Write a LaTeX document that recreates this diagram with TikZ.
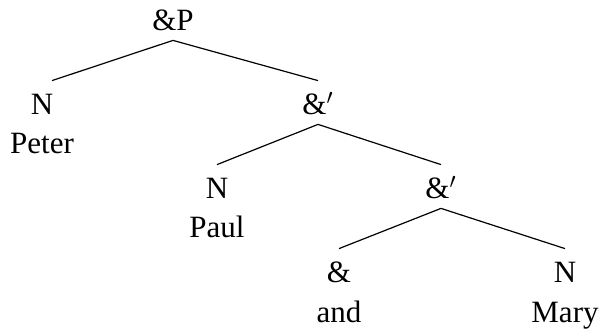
\documentclass[tikz,border=0pt]{standalone}
\usepackage{fontspec}
\setmainfont{Liberation Serif}
\usetikzlibrary{arrows, arrows.meta}

\tikzset{
  cat/.style={anchor=base, inner sep=0pt, text height=17pt, text depth=4.5pt, font=\fontsize{15.5}{18}\selectfont},
  word/.style={anchor=base, inner sep=0pt, font=\fontsize{15.5}{18}\selectfont},
  branch/.style={line width=0.6pt}
}

\begin{document}
\begin{tikzpicture}[x=0.5pt, y=-0.5pt]
\useasboundingbox (0,0) rectangle (600,331);
\node[cat] (andp) at (173,31) {\&P};
\node[cat] (n1) at (42,115) {N};
\node[word] (peter) at (42,154) {Peter};
\node[cat] (bar1) at (318,115) {\&$'$};
\node[cat] (n2) at (217,199) {N};
\node[word] (paul) at (217,238) {Paul};
\node[cat] (bar2) at (441,199) {\&$'$};
\node[cat] (conj) at (339,283) {\&};
\node[word] (and) at (339,322) {and};
\node[cat] (n3) at (565,283) {N};
\node[word] (mary) at (565,322) {Mary};
\draw[branch] ([xshift=5pt]n1.north) -- (andp.south) -- (bar1.north);
\draw[branch] (n2.north) -- (bar1.south) -- (bar2.north);
\draw[branch] (conj.north) -- (bar2.south) -- (n3.north);
\end{tikzpicture}
\end{document}
